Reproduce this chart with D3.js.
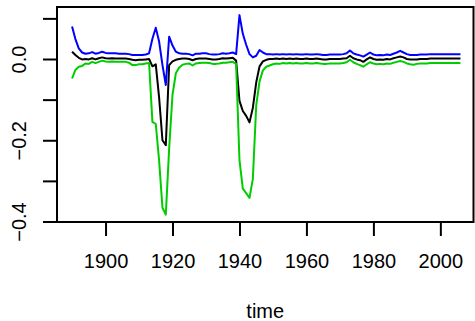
<!DOCTYPE html>
<html><head><meta charset="utf-8">
<script src="https://cdn.jsdelivr.net/npm/d3@7"></script>
<style>html,body{margin:0;padding:0;background:#fff;}svg{display:block;}</style>
</head><body>
<script>
const years = d3.range(1890, 2007);
const mid = [
 0.018, 0.010, 0.003, -0.001, 0.000, -0.001, 0.002, -0.001, 0.002, 0.004,
 0.002, 0.001, 0.002, 0.001, 0.001, 0.001, 0.001, 0.000, -0.002, -0.003,
 -0.002, -0.002, -0.001, 0.000, -0.018, -0.013, -0.095, -0.200, -0.212, -0.015,
 -0.006, -0.002, 0.000, 0.001, 0.001, 0.000, -0.003, 0.000, 0.001, 0.001,
 0.001, 0.000, -0.001, -0.001, 0.000, 0.002, 0.001, 0.002, 0.003, -0.004,
 -0.103, -0.128, -0.140, -0.156, -0.120, -0.058, -0.018, -0.006, -0.002, 0.000,
 0.000, 0.001, 0.000, 0.001, 0.000, 0.001, 0.000, 0.001, 0.000, 0.000,
 0.001, 0.000, 0.000, 0.001, 0.000, -0.001, -0.001, 0.000, 0.000, 0.000,
 0.000, 0.001, 0.002, 0.008, 0.002, -0.001, -0.003, -0.007, -0.001, 0.004,
 0.000, -0.002, -0.001, -0.002, 0.000, -0.001, 0.002, 0.004, 0.006, 0.004,
 0.000, -0.001, -0.001, -0.001, 0.000, 0.000, 0.000, 0.001, 0.001, 0.001,
 0.001, 0.001, 0.001, 0.001, 0.001, 0.001, 0.001
];
const upper = [
 0.080, 0.049, 0.026, 0.016, 0.013, 0.014, 0.017, 0.013, 0.015, 0.018,
 0.015, 0.014, 0.014, 0.014, 0.013, 0.013, 0.013, 0.012, 0.010, 0.010,
 0.010, 0.010, 0.011, 0.014, 0.050, 0.077, 0.043, -0.015, -0.064, 0.055,
 0.033, 0.018, 0.014, 0.013, 0.013, 0.012, 0.009, 0.013, 0.013, 0.014,
 0.014, 0.012, 0.011, 0.011, 0.012, 0.014, 0.013, 0.014, 0.016, 0.012,
 0.108, 0.062, 0.035, 0.012, 0.004, 0.008, 0.022, 0.016, 0.012, 0.012,
 0.011, 0.012, 0.011, 0.012, 0.011, 0.012, 0.011, 0.012, 0.011, 0.011,
 0.012, 0.011, 0.011, 0.012, 0.011, 0.010, 0.010, 0.011, 0.011, 0.011,
 0.011, 0.012, 0.014, 0.021, 0.014, 0.011, 0.009, 0.006, 0.011, 0.016,
 0.011, 0.009, 0.010, 0.009, 0.011, 0.010, 0.013, 0.016, 0.020, 0.016,
 0.012, 0.010, 0.010, 0.010, 0.011, 0.011, 0.011, 0.012, 0.012, 0.012,
 0.012, 0.012, 0.012, 0.012, 0.012, 0.012, 0.012
];
const lower = [
 -0.048, -0.027, -0.019, -0.017, -0.011, -0.012, -0.007, -0.010, -0.007, -0.004,
 -0.006, -0.007, -0.006, -0.007, -0.007, -0.007, -0.007, -0.009, -0.015, -0.015,
 -0.013, -0.013, -0.011, -0.010, -0.155, -0.160, -0.250, -0.366, -0.383, -0.220,
 -0.088, -0.035, -0.021, -0.014, -0.012, -0.011, -0.016, -0.011, -0.010, -0.009,
 -0.009, -0.010, -0.012, -0.012, -0.011, -0.009, -0.009, -0.008, -0.007, -0.012,
 -0.249, -0.319, -0.330, -0.342, -0.295, -0.115, -0.055, -0.028, -0.019, -0.016,
 -0.013, -0.011, -0.012, -0.010, -0.011, -0.010, -0.011, -0.010, -0.011, -0.011,
 -0.010, -0.011, -0.011, -0.010, -0.011, -0.012, -0.012, -0.011, -0.011, -0.011,
 -0.011, -0.010, -0.008, -0.002, -0.008, -0.012, -0.015, -0.019, -0.013, -0.008,
 -0.011, -0.013, -0.012, -0.013, -0.011, -0.012, -0.009, -0.007, -0.005, -0.007,
 -0.011, -0.013, -0.014, -0.012, -0.011, -0.011, -0.011, -0.010, -0.010, -0.010,
 -0.010, -0.010, -0.010, -0.010, -0.010, -0.010, -0.010
];
const xTicks = [1900, 1920, 1940, 1960, 1980, 2000];
const yTicks = [-0.4, -0.3, -0.2, -0.1, 0.0, 0.1];
const yLabelTicks = [-0.4, -0.2, 0.0];
const xLabel = "time";

const W = 475, H = 321;
const L = 57, R = 473.5, T = 7, B = 222;
const svg = d3.select("body").append("svg").attr("width", W).attr("height", H);
const x = d3.scaleLinear().domain([1885.5, 2009.9]).range([L, R]);
const y = d3.scaleLinear().domain([-0.4012, 0.128]).range([B, T]);
const font = "'Liberation Sans', Arial, Helvetica, sans-serif";

const clip = svg.append("clipPath").attr("id","c").append("rect")
  .attr("x", L).attr("y", T).attr("width", R-L).attr("height", B-T);

const line = d3.line().x((d,i)=>x(years[i])).y(d=>y(d));
const g = svg.append("g").attr("clip-path","url(#c)");
[[mid,"#000000"],[upper,"#0000FF"],[lower,"#00CD00"]].forEach(([s,c])=>{
  g.append("path").datum(s).attr("d", line).attr("fill","none")
   .attr("stroke", c).attr("stroke-width", 2).attr("stroke-linejoin","round");
});

svg.append("rect").attr("x", L).attr("y", T).attr("width", R-L).attr("height", B-T)
  .attr("fill","none").attr("stroke","#000").attr("stroke-width",2);

const xAxis = d3.axisBottom(x).tickValues(xTicks).tickSize(14).tickPadding(3)
  .tickFormat(d3.format("d"));
const xg = svg.append("g").attr("transform",`translate(0,${B})`).call(xAxis);
xg.select(".domain").remove();
xg.selectAll("line").attr("stroke","#000").attr("stroke-width",2);
xg.selectAll("text").attr("font-family",font).attr("font-size",20).attr("fill","#000")
  .attr("dy",null).attr("y",46);

const yAxis = d3.axisLeft(y).tickValues(yTicks).tickSize(14)
  .tickFormat(d => yLabelTicks.some(v=>Math.abs(v-d)<1e-9) ? d3.format(".1f")(d).replace("-","\u2212") : "");
const yg = svg.append("g").attr("transform",`translate(${L},0)`).call(yAxis);
yg.select(".domain").remove();
yg.selectAll("line").attr("stroke","#000").attr("stroke-width",2);
yg.selectAll("text").attr("font-family",font).attr("font-size",20).attr("fill","#000")
  .attr("x",null).attr("dy",null).attr("text-anchor","middle")
  .attr("transform","translate(-31,0) rotate(-90)");

svg.append("text").attr("x",(L+R)/2).attr("y",318).attr("text-anchor","middle")
  .attr("font-family",font).attr("font-size",20).attr("fill","#000").text(xLabel);
</script>
</body></html>
